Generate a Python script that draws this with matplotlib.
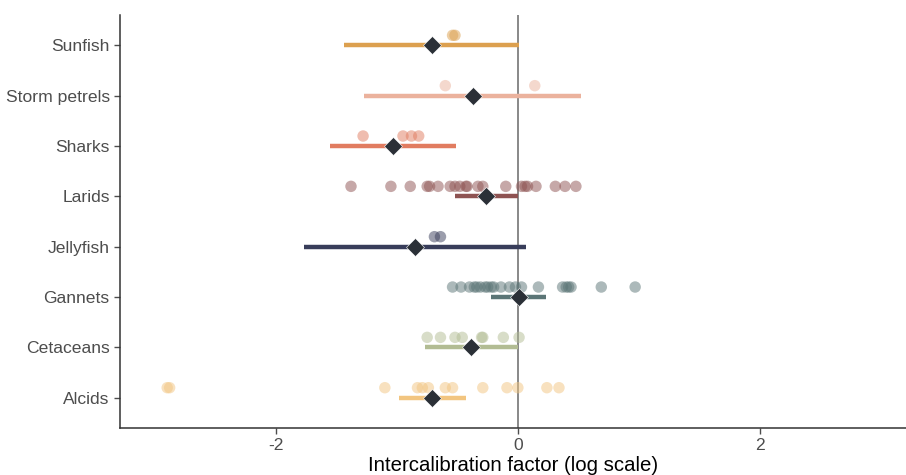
import numpy as np
import matplotlib
matplotlib.use('Agg')
import matplotlib.pyplot as plt

plt.rcParams['font.family'] = ['Liberation Sans', 'DejaVu Sans']

# groups from bottom to top
groups = ['Alcids', 'Cetaceans', 'Gannets', 'Jellyfish', 'Larids', 'Sharks', 'Storm petrels', 'Sunfish']
colors = ['#F2C580', '#B2BC93', '#5B7576', '#383D5A', '#8E5352', '#E17C60', '#EBB29D', '#DCA04F']

# estimate and interval
estimate = [-0.71, -0.39, 0.01, -0.85, -0.26, -1.03, -0.37, -0.71]
low = [-0.98, -0.77, -0.22, -1.77, -0.52, -1.55, -1.27, -1.44]
high = [-0.43, 0.0, 0.23, 0.07, 0.0, -0.51, 0.52, 0.01]

# individual factors
alcids = [-2.90, -2.88, -1.10, -0.83, -0.79, -0.74, -0.60, -0.54, -0.29, -0.09, 0.0, 0.24, 0.34]
cetaceans = [-0.75, -0.64, -0.52, -0.46, -0.30, -0.29, -0.12, 0.01]
gannets = [-0.54, -0.47, -0.40, -0.36, -0.34, -0.31, -0.27, -0.25, -0.22, -0.20, -0.14,
           -0.07, -0.02, 0.03, 0.17, 0.37, 0.40, 0.42, 0.44, 0.69, 0.97]
jellyfish = [-0.69, -0.64]
larids = [-1.38, -1.05, -0.89, -0.75, -0.73, -0.66, -0.56, -0.52, -0.48, -0.43, -0.42,
          -0.33, -0.29, -0.10, 0.03, 0.06, 0.08, 0.15, 0.31, 0.39, 0.48]
sharks = [-1.28, -0.95, -0.88, -0.82]
storm_petrels = [-0.60, 0.14]
sunfish = [-0.54, -0.52]
points = [alcids, cetaceans, gannets, jellyfish, larids, sharks, storm_petrels, sunfish]

fig = plt.figure(figsize=(9.06, 4.75), dpi=100)
ax = fig.add_axes([0.1325, 0.099, 0.8675, 0.869])

ax.axvline(0, color='#7F7F7F', lw=1.3, zorder=1)

for i, g in enumerate(groups):
    y = i + 1
    ax.scatter(points[i], np.full(len(points[i]), y + 0.2), s=68, color=colors[i],
               alpha=0.5, edgecolors='none', zorder=2)
    ax.plot([low[i], high[i]], [y, y], color=colors[i], lw=3.2, solid_capstyle='butt', zorder=3)
    ax.plot(estimate[i], y, marker='D', ms=9, color='#2B3037', mec='white', mew=0.4, zorder=4)

ax.set_xlim(-3.29, 3.21)
ax.set_ylim(0.4, 8.6)
ax.set_yticks(range(1, len(groups) + 1))
ax.set_yticklabels(groups)
ax.set_xticks([-2, 0, 2])
ax.set_xticklabels(['-2', '0', '2'])
ax.tick_params(axis='both', labelsize=12.6, colors='#4D4D4D', length=4, width=1, labelcolor='#4D4D4D')
ax.set_xlabel('Intercalibration factor (log scale)', fontsize=14.7, color='black', labelpad=2)

for s in ['top', 'right']:
    ax.spines[s].set_visible(False)
for s in ['left', 'bottom']:
    ax.spines[s].set_color('#333333')
    ax.spines[s].set_linewidth(1.1)

fig.savefig('out.png', dpi=100)
